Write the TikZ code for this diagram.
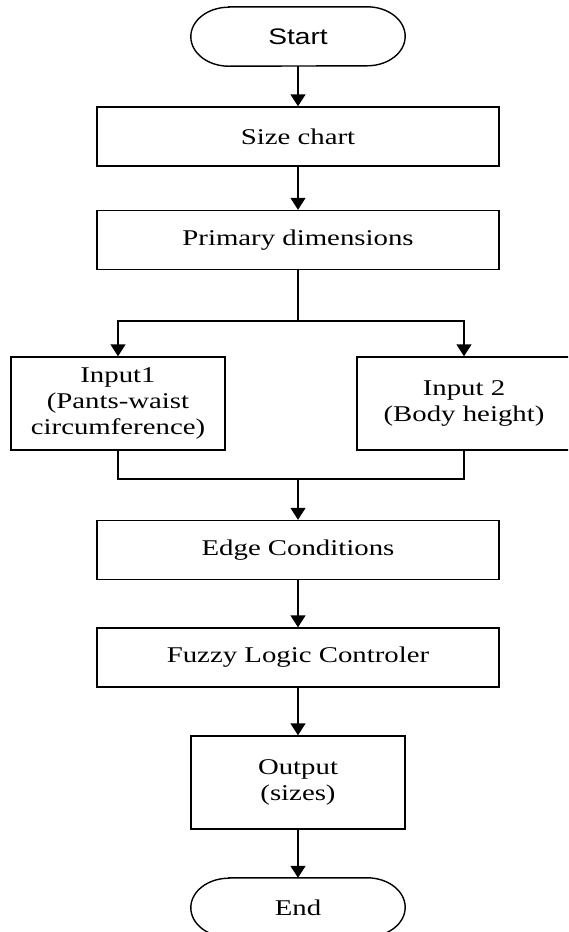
\documentclass[tikz,border=0pt]{standalone}
\usepackage{fontspec}
\setmainfont{Liberation Serif}[FakeStretch=1.28]
\newfontfamily\sansf{Liberation Sans}[FakeStretch=1.25]
\usetikzlibrary{arrows.meta}
\begin{document}
\begin{tikzpicture}[x=1pt,y=1pt,
  every node/.style={font=\fontsize{22.5pt}{26pt}\selectfont, align=center, inner sep=0pt},
  box/.style={draw, line width=1.4pt, minimum width=402pt, minimum height=59pt},
  smallbox/.style={draw, line width=1.4pt, minimum width=214pt, minimum height=93pt},
  pill/.style={minimum width=214pt, minimum height=59pt},
  conn/.style={line width=1.4pt},
  arr/.style={conn, -{Triangle[length=12pt,width=15pt]}}
]
\clip (0,0) rectangle (568,-932);
\fill[white] (0,0) rectangle (568,-932);

\node[pill] (start) at (298,-36.5) {\sansf Start};
\node[box] (size) at (298,-136.5) {Size chart};
\node[box] (prim) at (298,-240) {Primary dimensions};
\node[smallbox] (in1) at (118,-403.5) {Input1\\(Pants-waist\\circumference)};
\node[smallbox] (in2) at (464,-403.5) {Input 2\\(Body height)};
\node[box] (edge) at (298,-550) {Edge Conditions};
\node[box] (fuzzy) at (298,-657.5) {Fuzzy Logic Controler};
\node[smallbox] (out) at (298,-782.5) {Output\\(sizes)};
\node[pill] (end) at (298,-907.5) {End};

\coordinate (split) at (298,-321);
\coordinate (merge) at (298,-479);

% pill outlines
\foreach \n in {start,end}{
  \draw[conn] ([xshift=38pt]\n.north west) -- ([xshift=-38pt]\n.north east)
    arc[start angle=90,end angle=-90,x radius=38pt,y radius=29.5pt]
    -- ([xshift=38pt]\n.south west)
    arc[start angle=270,end angle=90,x radius=38pt,y radius=29.5pt] -- cycle;
}

\draw[arr] (start.south) -- (size.north);
\draw[arr] (size.south) -- (prim.north);
\draw[conn] (prim.south) -- (split);
\draw[arr] (split) -| (in1.north);
\draw[arr] (split) -| (in2.north);
\draw[conn] (in1.south) |- (merge);
\draw[conn] (in2.south) |- (merge);
\draw[arr] (merge) -- (edge.north);
\draw[arr] (edge.south) -- (fuzzy.north);
\draw[arr] (fuzzy.south) -- (out.north);
\draw[arr] (out.south) -- (end.north);
\end{tikzpicture}
\end{document}
